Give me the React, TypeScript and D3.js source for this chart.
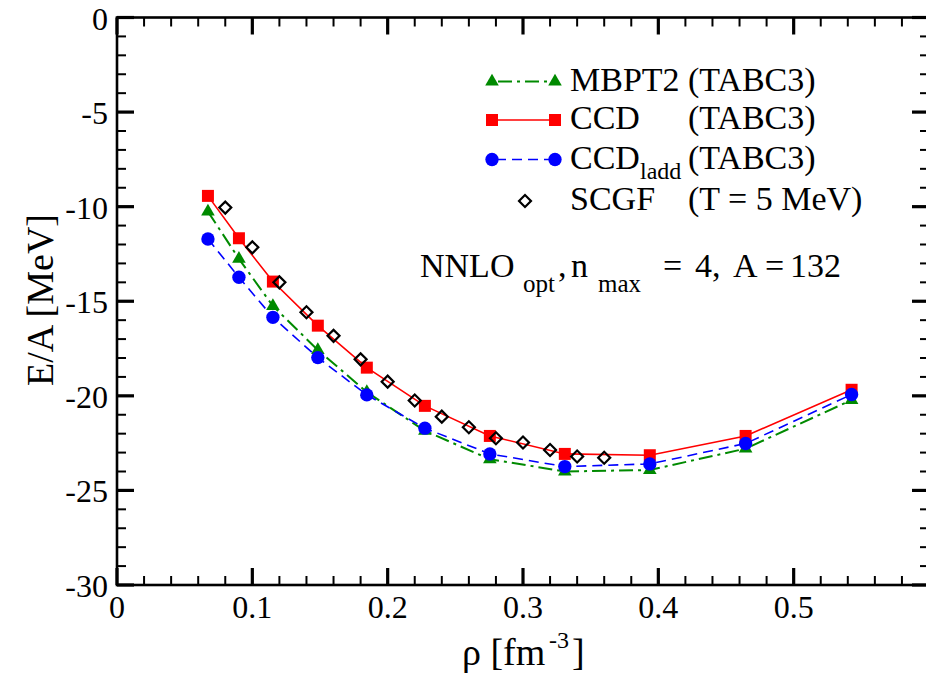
import React from "react";
import * as d3 from "d3";

// ---------- data ----------
const rhoTABC = [0.0672, 0.0901, 0.1152, 0.1484, 0.1846, 0.2275, 0.2755, 0.3309, 0.3937, 0.4645, 0.5428];
const mbpt2 = [-10.26, -12.76, -15.25, -17.58, -19.8, -21.85, -23.35, -24.0, -23.92, -22.79, -20.22];
const ccd = [-9.43, -11.67, -13.96, -16.29, -18.51, -20.53, -22.12, -23.07, -23.14, -22.12, -19.68];
const ccdLadd = [-11.71, -13.73, -15.85, -17.98, -19.95, -21.71, -23.07, -23.74, -23.6, -22.52, -19.93];
const rhoSCGF = [0.08, 0.1, 0.12, 0.14, 0.16, 0.18, 0.2, 0.22, 0.24, 0.26, 0.28, 0.3, 0.32, 0.34, 0.36];
const scgf = [-10.05, -12.15, -14.0, -15.58, -16.83, -18.07, -19.25, -20.25, -21.1, -21.66, -22.24, -22.47, -22.86, -23.21, -23.27];

const xTickValues = [0, 0.1, 0.2, 0.3, 0.4, 0.5];
const xTickLabels = ["0", "0.1", "0.2", "0.3", "0.4", "0.5"];
const yTickValues = [0, -5, -10, -15, -20, -25, -30];
const yTickLabels = ["0", "-5", "-10", "-15", "-20", "-25", "-30"];

const seriesNames = ["MBPT2", "CCD", "CCD", "SCGF"];
const seriesNotes = ["(TABC3)", "(TABC3)", "(TABC3)", "(T = 5 MeV)"];

const FAM = "Liberation Serif";
const txt = { fontFamily: `"${FAM}"` };

export default function App() {
  const W = 926, H = 677;
  const x = d3.scaleLinear().domain([0, 0.6]).range([117, 929]);
  const y = d3.scaleLinear().domain([-30, 0]).range([585, 17.5]);

  const line = (xs: number[], ys: number[]) =>
    d3.line<number>().x((_, i) => x(xs[i])).y((d) => y(d))(ys) || "";

  const tri = d3.symbol().type(d3.symbolTriangle).size(80)() || "";
  const sq = d3.symbol().type(d3.symbolSquare).size(144)() || "";
  const circ = d3.symbol().type(d3.symbolCircle).size(140)() || "";
  const dia = d3.symbol().type(d3.symbolSquare).size(72)() || "";

  const xMinor = d3.range(0, 0.6001, 0.02).filter((v) => Math.abs(v * 10 - Math.round(v * 10)) > 1e-6);
  const yMinor = d3.range(-30, 0.001, 1).filter((v) => v % 5 !== 0);
  const xMajor = [...xTickValues, 0.6];

  const [x0, x1] = x.range();
  const yb = y(-30), yt = y(0);
  const majLen = 17, minLen = 9;

  const green = "#008a00";
  const red = "#ff0000";
  const blue = "#0000ff";

  const legendY = [81.5, 120, 159.5, 201];
  const lx0 = 492, lx1 = 555;

  const T = (props: any) => <text fontFamily={FAM} style={txt} {...props} />;

  return (
    <svg width={W} height={H} style={{ position: "absolute", left: 0, top: 0 }}>
      <rect x={0} y={0} width={W} height={H} fill="#fff" />
      {/* series lines */}
      <path d={line(rhoTABC, mbpt2)} fill="none" stroke={green} strokeWidth={2} strokeDasharray="14,5,3,5" />
      <path d={line(rhoTABC, ccd)} fill="none" stroke={red} strokeWidth={1.6} />
      <path d={line(rhoTABC, ccdLadd)} fill="none" stroke={blue} strokeWidth={1.6} strokeDasharray="10,6" />
      {/* markers */}
      {mbpt2.map((v, i) => (
        <path key={"g" + i} d={tri} transform={`translate(${x(rhoTABC[i])},${y(v)})`} fill={green} />
      ))}
      {ccd.map((v, i) => (
        <path key={"r" + i} d={sq} transform={`translate(${x(rhoTABC[i])},${y(v)})`} fill={red} />
      ))}
      {ccdLadd.map((v, i) => (
        <path key={"b" + i} d={circ} transform={`translate(${x(rhoTABC[i])},${y(v)})`} fill={blue} />
      ))}
      {scgf.map((v, i) => (
        <path key={"k" + i} d={dia} transform={`translate(${x(rhoSCGF[i])},${y(v)}) rotate(45)`} fill="none" stroke="#000" strokeWidth={2.2} />
      ))}

      {/* frame */}
      <rect x={x0} y={yt} width={x1 - x0} height={yb - yt} fill="none" stroke="#000" strokeWidth={2.6} />
      {xMajor.map((v) => (
        <g key={"xM" + v}>
          <line x1={x(v)} x2={x(v)} y1={yb} y2={yb - majLen} stroke="#000" strokeWidth={3.2} />
          <line x1={x(v)} x2={x(v)} y1={yt} y2={yt + majLen} stroke="#000" strokeWidth={3.2} />
        </g>
      ))}
      {xMinor.map((v) => (
        <g key={"xm" + v}>
          <line x1={x(v)} x2={x(v)} y1={yb} y2={yb - minLen} stroke="#000" strokeWidth={2} />
          <line x1={x(v)} x2={x(v)} y1={yt} y2={yt + minLen} stroke="#000" strokeWidth={2} />
        </g>
      ))}
      {yTickValues.map((v) => (
        <g key={"yM" + v}>
          <line x1={x0} x2={x0 + majLen} y1={y(v)} y2={y(v)} stroke="#000" strokeWidth={3.2} />
          <line x1={x1} x2={x1 - majLen} y1={y(v)} y2={y(v)} stroke="#000" strokeWidth={3.2} />
        </g>
      ))}
      {yMinor.map((v) => (
        <g key={"ym" + v}>
          <line x1={x0} x2={x0 + minLen} y1={y(v)} y2={y(v)} stroke="#000" strokeWidth={2} />
          <line x1={x1} x2={x1 - minLen} y1={y(v)} y2={y(v)} stroke="#000" strokeWidth={2} />
        </g>
      ))}
      {/* tick labels */}
      {xTickValues.map((v, i) => (
        <T key={"xl" + i} x={x(v)} y={618} fontSize={32} textAnchor="middle">
          {xTickLabels[i]}
        </T>
      ))}
      {yTickValues.map((v, i) => (
        <T key={"yl" + i} x={108} y={y(v) + 12} fontSize={32} textAnchor="end">
          {yTickLabels[i]}
        </T>
      ))}

      {/* axis titles */}
      <T x={462} y={665} fontSize={38}>ρ [fm</T>
      <T x={549} y={648} fontSize={24}>-3</T>
      <T x={572} y={665} fontSize={38}>]</T>
      <T transform="translate(53,300) rotate(-90)" fontSize={38} textAnchor="middle">E/A [MeV]</T>

      {/* legend */}
      <line x1={lx0} x2={lx1} y1={legendY[0]} y2={legendY[0]} stroke={green} strokeWidth={2} strokeDasharray="14,5,3,5" strokeDashoffset={-6} />
      <path d={tri} transform={`translate(${lx0},${legendY[0]})`} fill={green} />
      <path d={tri} transform={`translate(${lx1},${legendY[0]})`} fill={green} />
      <line x1={lx0} x2={lx1} y1={legendY[1]} y2={legendY[1]} stroke={red} strokeWidth={1.6} />
      <path d={sq} transform={`translate(${lx0},${legendY[1]})`} fill={red} />
      <path d={sq} transform={`translate(${lx1},${legendY[1]})`} fill={red} />
      <line x1={lx0} x2={lx1} y1={legendY[2]} y2={legendY[2]} stroke={blue} strokeWidth={1.6} strokeDasharray="10,6" strokeDashoffset={-4} />
      <path d={circ} transform={`translate(${lx0},${legendY[2]})`} fill={blue} />
      <path d={circ} transform={`translate(${lx1},${legendY[2]})`} fill={blue} />
      <path d={dia} transform={`translate(525,${legendY[3]}) rotate(45)`} fill="none" stroke="#000" strokeWidth={2.2} />

      {seriesNames.map((nm, i) => (
        <T key={"ln" + i} x={570} y={legendY[i] + 9} fontSize={34}>{nm}</T>
      ))}
      <T x={640} y={legendY[2] + 19} fontSize={24}>ladd</T>
      {seriesNotes.map((nt, i) => (
        <T key={"lt" + i} x={688} y={legendY[i] + 9} fontSize={34}>{nt}</T>
      ))}

      {/* annotation */}
      <T x={420} y={277} fontSize={34}>NNLO</T>
      <T x={523} y={292} fontSize={25}>opt</T>
      <T x={558} y={277} fontSize={34}>,</T>
      <T x={571} y={277} fontSize={34}>n</T>
      <T x={598} y={292} fontSize={25}>max</T>
      <T x={663} y={277} fontSize={34}>=</T>
      <T x={695} y={277} fontSize={34}>4,</T>
      <T x={733} y={277} fontSize={34}>A</T>
      <T x={765} y={277} fontSize={34}>=</T>
      <T x={790} y={277} fontSize={34}>132</T>
    </svg>
  );
}
